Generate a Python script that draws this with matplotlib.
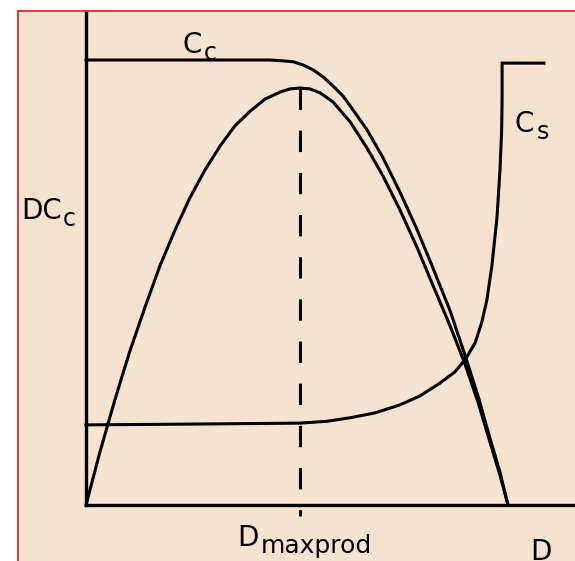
import matplotlib.pyplot as plt

# dilution rate D, scaled so that washout sits at D = 1
D_cc = [0.000, 0.436, 0.467, 0.491, 0.514, 0.538, 0.562, 0.585, 0.609, 0.626,
        0.666, 0.704, 0.744, 0.784, 0.822, 0.863, 0.898, 0.929, 0.957, 0.981,
        1.000]
Cc = [1.000, 1.000, 0.998, 0.996, 0.989, 0.978, 0.962, 0.942, 0.919, 0.897,
      0.843, 0.780, 0.703, 0.620, 0.533, 0.436, 0.337, 0.245, 0.151, 0.074,
      0.000]

# productivity D*Cc
D_prod = [0.000, 0.033, 0.052, 0.069, 0.088, 0.104, 0.140, 0.175, 0.211, 0.246,
          0.282, 0.318, 0.353, 0.389, 0.424, 0.460, 0.483, 0.507, 0.531, 0.555,
          0.585, 0.626, 0.666, 0.704, 0.744, 0.784, 0.822, 0.863, 0.898, 0.929,
          0.957, 0.981, 1.000]
DCc = [0.000, 0.119, 0.182, 0.238, 0.297, 0.346, 0.445, 0.537, 0.618, 0.690,
       0.753, 0.807, 0.852, 0.885, 0.912, 0.928, 0.935, 0.937, 0.935, 0.926,
       0.906, 0.861, 0.802, 0.739, 0.663, 0.580, 0.494, 0.402, 0.317, 0.231,
       0.142, 0.067, 0.000]

# substrate concentration Cs
D_cs = [0.000, 0.270, 0.507, 0.570, 0.626, 0.685, 0.744, 0.791, 0.839, 0.874,
        0.898, 0.922, 0.938, 0.950, 0.962, 0.974, 0.981, 0.985, 0.986, 0.986,
        1.085]
Cs = [0.180, 0.182, 0.184, 0.188, 0.196, 0.207, 0.225, 0.245, 0.274, 0.299,
      0.326, 0.364, 0.411, 0.461, 0.539, 0.647, 0.753, 0.843, 0.910, 0.993,
      0.993]

D_maxprod = 0.507

W, H = 575, 561
fig = plt.figure(figsize=(W / 100, H / 100), dpi=100)
fig.patch.set_facecolor('white')

# beige panel with a thin red frame
panel = plt.Rectangle((18 / W, -0.05), 1.1, 1 - 11 / H + 0.05,
                      transform=fig.transFigure, facecolor='#f6e3cf',
                      edgecolor='#cc2020', linewidth=1.2, zorder=-5)
fig.patches.append(panel)

ax = fig.add_axes([86 / W, (H - 505) / H, (W - 86) / W, 492 / H])
ax.set_zorder(2)
ax.set_facecolor('none')
ax.set_xlim(0, 489 / 422)
ax.set_ylim(0, 492 / 445)
for side in ['top', 'right']:
    ax.spines[side].set_visible(False)
for side in ['left', 'bottom']:
    ax.spines[side].set_linewidth(2.4)
    ax.spines[side].set_color('black')
ax.set_xticks([])
ax.set_yticks([])

lw = 2.2
ax.plot(D_cc, Cc, color='black', lw=lw, clip_on=False)
ax.plot(D_prod, DCc, color='black', lw=lw, clip_on=False)
ax.plot(D_cs, Cs, color='black', lw=lw, clip_on=False, solid_joinstyle='miter')
ax.plot([D_maxprod, D_maxprod], [max(DCc), -0.025], color='black', lw=lw,
        linestyle=(0, (7, 6.8)), clip_on=False)


def label(x, y, main, sub, size=20, subsize=17, gap=1.5, drop=-1.0):
    t = fig.text(x / W, 1 - y / H, main, fontsize=size, ha='left', va='baseline')
    ax.annotate(sub, xy=(1, 0), xycoords=t, xytext=(gap, drop),
                textcoords='offset points', fontsize=subsize,
                ha='left', va='baseline', annotation_clip=False)


label(182, 53, 'C', 'c')
label(21, 219, 'DC', 'c', gap=0.5)
label(515, 132, 'C', 's')
label(237, 546, 'D', 'maxprod', subsize=18)
fig.text(530 / W, 1 - 560 / H, 'D', fontsize=20, ha='left', va='baseline')

fig.savefig('out.png', dpi=100)
